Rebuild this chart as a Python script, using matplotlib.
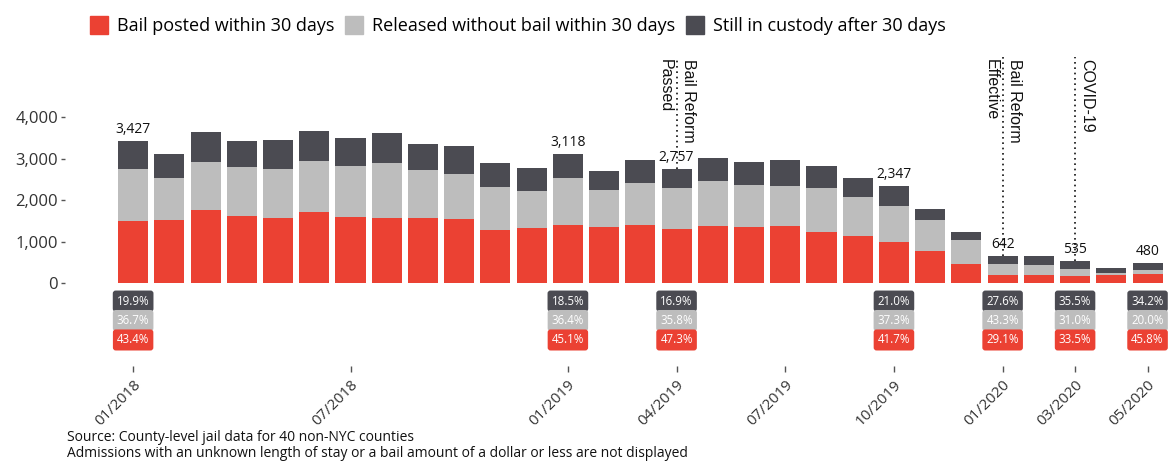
import numpy as np
import matplotlib
matplotlib.use("Agg")
import matplotlib.pyplot as plt
from matplotlib.patches import Patch

# Monthly admissions, 01/2018 - 05/2020
months = ["01/2018", "02/2018", "03/2018", "04/2018", "05/2018", "06/2018",
          "07/2018", "08/2018", "09/2018", "10/2018", "11/2018", "12/2018",
          "01/2019", "02/2019", "03/2019", "04/2019", "05/2019", "06/2019",
          "07/2019", "08/2019", "09/2019", "10/2019", "11/2019", "12/2019",
          "01/2020", "02/2020", "03/2020", "04/2020", "05/2020"]
bail_posted = [1487, 1510, 1751, 1606, 1566, 1703, 1598, 1566, 1558, 1534,
               1285, 1325, 1406, 1349, 1406, 1304, 1382, 1349, 1370, 1229,
               1141, 979, 779, 466, 187, 193, 179, 185, 220]
released = [1258, 1012, 1173, 1189, 1189, 1245, 1221, 1318, 1157, 1093,
            1028, 884, 1135, 900, 1004, 987, 1068, 1020, 967, 1068,
            923, 875, 739, 570, 278, 249, 166, 56, 96]
custody = [682, 594, 715, 635, 699, 731, 675, 730, 650, 674,
           587, 570, 577, 458, 554, 466, 562, 555, 638, 522,
           466, 493, 273, 185, 177, 209, 190, 120, 164]

# Months with totals / share boxes
label_months = ["01/2018", "01/2019", "04/2019", "10/2019", "01/2020", "03/2020", "05/2020"]
pct_custody = ["19.9%", "18.5%", "16.9%", "21.0%", "27.6%", "35.5%", "34.2%"]
pct_released = ["36.7%", "36.4%", "35.8%", "37.3%", "43.3%", "31.0%", "20.0%"]
pct_bail = ["43.4%", "45.1%", "47.3%", "41.7%", "29.1%", "33.5%", "45.8%"]

tick_months = ["01/2018", "07/2018", "01/2019", "04/2019", "07/2019",
               "10/2019", "01/2020", "03/2020", "05/2020"]
events = [("04/2019", "Bail Reform", "Passed"),
          ("01/2020", "Bail Reform", "Effective"),
          ("03/2020", "COVID-19", "")]

RED = "#eb4133"
GRAY = "#bdbdbd"
DARK = "#4b4b52"
FONT = "Open Sans"

plt.rcParams["font.family"] = [FONT, "DejaVu Sans"]

fig = plt.figure(figsize=(11.7, 4.62), dpi=100)
ax = fig.add_axes([0.0983, 0.3874, 0.898, 0.4935])

x = np.arange(len(months))
bail = np.array(bail_posted)
rel = np.array(released)
cus = np.array(custody)
total = bail + rel + cus

w = 0.83
ax.bar(x, bail, w, color=RED)
ax.bar(x, rel, w, bottom=bail, color=GRAY)
ax.bar(x, cus, w, bottom=bail + rel, color=DARK)

ax.set_xlim(-0.5, len(months) - 0.5)
ax.set_ylim(0, 5500)

# totals above selected bars
for m in label_months:
    i = months.index(m)
    ax.annotate(f"{total[i]:,}", xy=(i, total[i]), xytext=(0, 3),
                textcoords="offset points", ha="center", va="bottom",
                fontsize=10, color="#111111")

# share boxes below the axis
rows = [(pct_custody, DARK, -13), (pct_released, GRAY, -27), (pct_bail, RED, -41)]
for vals, col, off in rows:
    for m, v in zip(label_months, vals):
        i = months.index(m)
        ax.annotate(v, xy=(i, 0), xytext=(0, off), textcoords="offset points",
                    ha="center", va="center", fontsize=8.3, color="white",
                    annotation_clip=False,
                    bbox=dict(boxstyle="round,pad=0.35,rounding_size=0.25",
                              fc=col, ec="none"))

# event markers
for m, line1, line2 in events:
    i = months.index(m)
    ax.plot([i, i], [total[i], 5450], ls=(0, (1, 2.2)), color="#111111", lw=1.2)
    ax.annotate(line1, xy=(i, 5400), xytext=(3, 0), textcoords="offset points",
                rotation=-90, ha="left", va="top", fontsize=11.5,
                family="Liberation Sans", color="#111111")
    if line2:
        ax.annotate(line2, xy=(i, 5400), xytext=(-3, 0), textcoords="offset points",
                    rotation=-90, ha="right", va="top", fontsize=11.5,
                    family="Liberation Sans", color="#111111")

# axes styling
for s in ["top", "right", "left", "bottom"]:
    ax.spines[s].set_visible(False)
ax.spines["left"].set_position(("outward", 36))
ax.spines["bottom"].set_position(("outward", 60))

ax.set_yticks([0, 1000, 2000, 3000, 4000])
ax.set_yticklabels(["0", "1,000", "2,000", "3,000", "4,000"])
ax.tick_params(axis="y", length=3, width=1, color="#555555", pad=2,
               labelsize=12, labelcolor="#333333")

ax.set_xticks([months.index(m) for m in tick_months])
ax.set_xticklabels(tick_months, rotation=45, ha="right", va="top",
                   rotation_mode="anchor", fontsize=11, color="#333333")
ax.tick_params(axis="x", length=4, width=1, color="#555555", pad=4)

# legend
handles = [Patch(color=RED, label="Bail posted within 30 days"),
           Patch(color=GRAY, label="Released without bail within 30 days"),
           Patch(color=DARK, label="Still in custody after 30 days")]
fig.legend(handles=handles, loc="upper left", bbox_to_anchor=(0.063, 1.0),
           ncol=3, frameon=False, fontsize=13, handlelength=1.0, handleheight=1.1,
           handletextpad=0.5, columnspacing=0.6)

fig.text(0.057, 0.045, "Source: County-level jail data for 40 non-NYC counties",
         fontsize=10, color="#111111")
fig.text(0.057, 0.010, "Admissions with an unknown length of stay or a bail amount of a dollar or less are not displayed",
         fontsize=10, color="#111111")

fig.savefig("out.png", dpi=100)
